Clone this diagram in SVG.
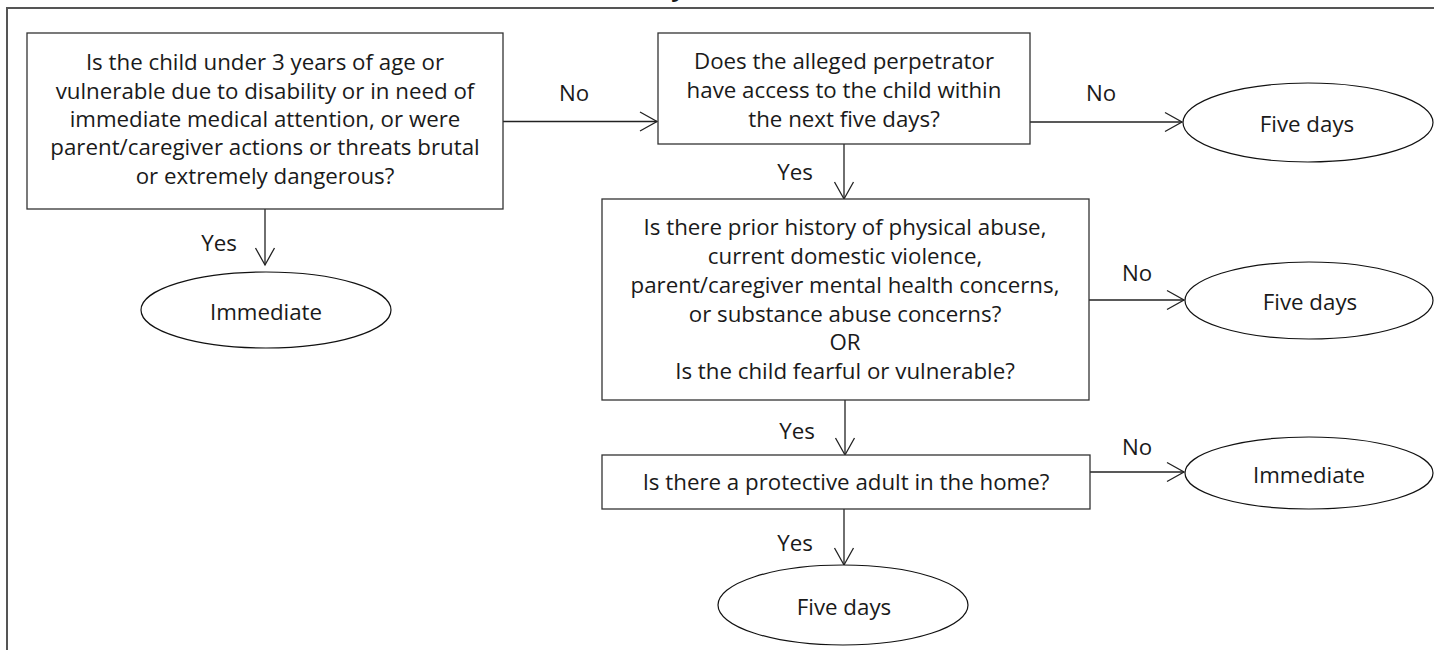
<svg xmlns="http://www.w3.org/2000/svg" width="1434" height="650" viewBox="0 0 1434 650">
  <style>
    .frame { fill: none; stroke: #555555; stroke-width: 2; }
    .box { fill: #ffffff; stroke: #333333; stroke-width: 1.3; }
    .oval { fill: #ffffff; stroke: #111111; stroke-width: 1.2; }
    .edge { fill: none; stroke: #222222; stroke-width: 1.3; marker-end: url(#chevron); }
    text { font-family: "Open Sans", "Noto Sans", "DejaVu Sans", sans-serif; font-size: 22.3px; fill: #1a1a1a; text-anchor: middle; }
    .title { font-weight: bold; font-size: 24px; }
  </style>
  <defs>
    <!-- open V-shaped arrowhead, tip at the path end -->
    <marker id="chevron" markerUnits="userSpaceOnUse" markerWidth="20" markerHeight="22" viewBox="0 0 20 22" refX="18" refY="11" orient="auto">
      <path d="M1,1.5 L18,11 L1,20.5" fill="none" stroke="#222222" stroke-width="1.3"/>
    </marker>
  </defs>

  <rect width="1434" height="650" fill="#ffffff"/>

  <!-- page frame with the heading running above its top edge -->
  <g id="frame">
    <text class="title" x="678" y="-4">y</text>
    <path class="frame" d="M7,652 V8 H1436"/>
  </g>

  <g id="connectors">
    <path class="edge" d="M503,121.5 H657"/>
    <path class="edge" d="M1030,122 H1182"/>
    <path class="edge" d="M265,209 V265"/>
    <path class="edge" d="M844,144 V199"/>
    <path class="edge" d="M1089,300 H1184"/>
    <path class="edge" d="M845,400 V455"/>
    <path class="edge" d="M1090,472 H1184"/>
    <path class="edge" d="M844,509 V565"/>
    <text x="574" y="101">No</text>
    <text x="1101" y="101">No</text>
    <text x="219" y="251">Yes</text>
    <text x="795" y="180">Yes</text>
    <text x="1137" y="281">No</text>
    <text x="797" y="439">Yes</text>
    <text x="1137" y="455">No</text>
    <text x="795" y="551">Yes</text>
  </g>

  <g id="q-age">
    <rect class="box" x="27" y="33" width="476" height="176"/>
    <text x="265" y="70">Is the child under 3 years of age or</text>
    <text x="265" y="99">vulnerable due to disability or in need of</text>
    <text x="265" y="127">immediate medical attention, or were</text>
    <text x="265" y="155">parent/caregiver actions or threats brutal</text>
    <text x="265" y="184">or extremely dangerous?</text>
  </g>

  <g id="r-immediate-1">
    <ellipse class="oval" cx="266" cy="310" rx="125" ry="38"/>
    <text x="266" y="320">Immediate</text>
  </g>

  <g id="q-access">
    <rect class="box" x="658" y="33" width="372" height="111"/>
    <text x="844" y="69">Does the alleged perpetrator</text>
    <text x="844" y="98">have access to the child within</text>
    <text x="844" y="127">the next five days?</text>
  </g>

  <g id="r-five-days-1">
    <ellipse class="oval" cx="1308" cy="122.5" rx="125" ry="39.5"/>
    <text x="1307" y="132">Five days</text>
  </g>

  <g id="q-history">
    <rect class="box" x="602" y="199" width="487" height="201"/>
    <text x="845" y="235">Is there prior history of physical abuse,</text>
    <text x="845" y="264">current domestic violence,</text>
    <text x="845" y="293">parent/caregiver mental health concerns,</text>
    <text x="845" y="322">or substance abuse concerns?</text>
    <text x="845" y="350">OR</text>
    <text x="845" y="379">Is the child fearful or vulnerable?</text>
  </g>

  <g id="r-five-days-2">
    <ellipse class="oval" cx="1309" cy="300.5" rx="124" ry="38.5"/>
    <text x="1310" y="310">Five days</text>
  </g>

  <g id="q-protective">
    <rect class="box" x="602" y="455" width="488" height="54"/>
    <text x="846" y="490">Is there a protective adult in the home?</text>
  </g>

  <g id="r-immediate-2">
    <ellipse class="oval" cx="1309" cy="473" rx="124" ry="36"/>
    <text x="1309" y="483">Immediate</text>
  </g>

  <g id="r-five-days-3">
    <ellipse class="oval" cx="843" cy="605" rx="125" ry="40"/>
    <text x="844" y="615">Five days</text>
  </g>
</svg>
